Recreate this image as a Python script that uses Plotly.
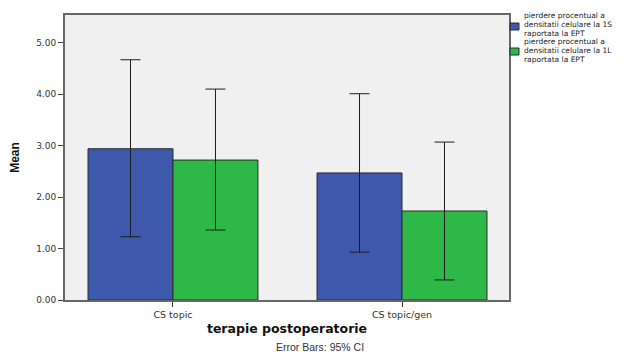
import plotly.graph_objects as go

# Group means and 95% confidence limits per therapy
categories = ["CS topic", "CS topic/gen"]
series_names = [
    "pierdere procentual a<br>densitatii celulare la 1S<br>raportata la EPT",
    "pierdere procentual a<br>densitatii celulare la 1L<br>raportata la EPT",
]
mean_1s = [2.94, 2.47]
lower_1s = [1.23, 0.93]
upper_1s = [4.67, 4.01]
mean_1l = [2.72, 1.73]
lower_1l = [1.36, 0.39]
upper_1l = [4.10, 3.07]
y_ticks = [0, 1, 2, 3, 4, 5]

colors = ["#3E58AC", "#2EB848"]
tick_font = dict(family="DejaVu Sans, Arial, sans-serif", size=9, color="#333333")

fig = go.Figure()
for name, means, lows, highs, color in [
    (series_names[0], mean_1s, lower_1s, upper_1s, colors[0]),
    (series_names[1], mean_1l, lower_1l, upper_1l, colors[1]),
]:
    fig.add_trace(go.Bar(
        x=categories,
        y=means,
        name=name,
        marker=dict(color=color, line=dict(color="#2a2a2a", width=1)),
        error_y=dict(
            type="data",
            symmetric=False,
            array=[h - m for h, m in zip(highs, means)],
            arrayminus=[m - l for m, l in zip(means, lows)],
            color="#1c1c1c",
            thickness=1,
            width=10,
        ),
        showlegend=False,
    ))

# Legend drawn as swatches plus text lines (pixel positions converted to paper units)
PLOT_L, PLOT_W, PLOT_B, PLOT_H = 65, 444, 300, 285
legend_swatch_y = [(23, 30), (48, 55)]
legend_line_y = [[15.5, 24.3, 33.1], [41.9, 50.7, 59.5]]
for color, (y0, y1), name, lines_y in zip(colors, legend_swatch_y, series_names, legend_line_y):
    fig.add_shape(type="rect", xref="paper", yref="paper",
                  x0=(510 - PLOT_L) / PLOT_W, x1=(519 - PLOT_L) / PLOT_W,
                  y0=(PLOT_B - y1) / PLOT_H, y1=(PLOT_B - y0) / PLOT_H,
                  fillcolor=color, line=dict(color="#2a2a2a", width=1))
    for text, ly in zip(name.split("<br>"), lines_y):
        fig.add_annotation(text=text, xref="paper", yref="paper",
                           x=(522 - PLOT_L) / PLOT_W, y=(PLOT_B - ly) / PLOT_H,
                           xanchor="left", yanchor="middle", showarrow=False,
                           font=dict(family="DejaVu Sans, Arial, sans-serif", size=7.5, color="#222222"))

fig.add_annotation(text="Error Bars: 95% CI", xref="paper", yref="paper",
                   x=(320 - PLOT_L) / PLOT_W, y=(PLOT_B - 347) / PLOT_H,
                   xanchor="center", yanchor="middle", showarrow=False,
                   font=dict(family="Liberation Sans, Arial, sans-serif", size=10.5, color="#333333"))

fig.update_layout(
    width=644, height=352,
    margin=dict(l=65, r=135, t=15, b=52),
    paper_bgcolor="white",
    plot_bgcolor="#F0F0F0",
    barmode="group",
    bargap=0.258,
    bargroupgap=0,
    font=dict(family="Liberation Sans, Arial, sans-serif"),
    xaxis=dict(
        range=[-0.4715, 1.4672],
        showline=True, linecolor="#666666", linewidth=2, mirror=True,
        ticks="outside", ticklen=5, tickcolor="#333333", tickwidth=1,
        tickfont=dict(family="DejaVu Sans, Arial, sans-serif", size=9.5, color="#333333"),
        showgrid=False,
        title=dict(text="<b>terapie postoperatorie</b>", standoff=5,
                   font=dict(family="DejaVu Sans, sans-serif", size=12.5, color="#111111")),
    ),
    yaxis=dict(
        range=[0, 5.54],
        tickvals=y_ticks,
        tickformat=".2f",
        showline=True, linecolor="#666666", linewidth=2, mirror=True,
        ticks="outside", ticklen=5, tickcolor="#444444", tickwidth=1,
        tickfont=tick_font,
        showgrid=False, zeroline=False,
        title=dict(text="<b>Mean</b>", standoff=14,
                   font=dict(family="Liberation Sans Narrow, Arial Narrow, sans-serif", size=12, color="#111111")),
    ),
)

fig.write_html("out.html")
